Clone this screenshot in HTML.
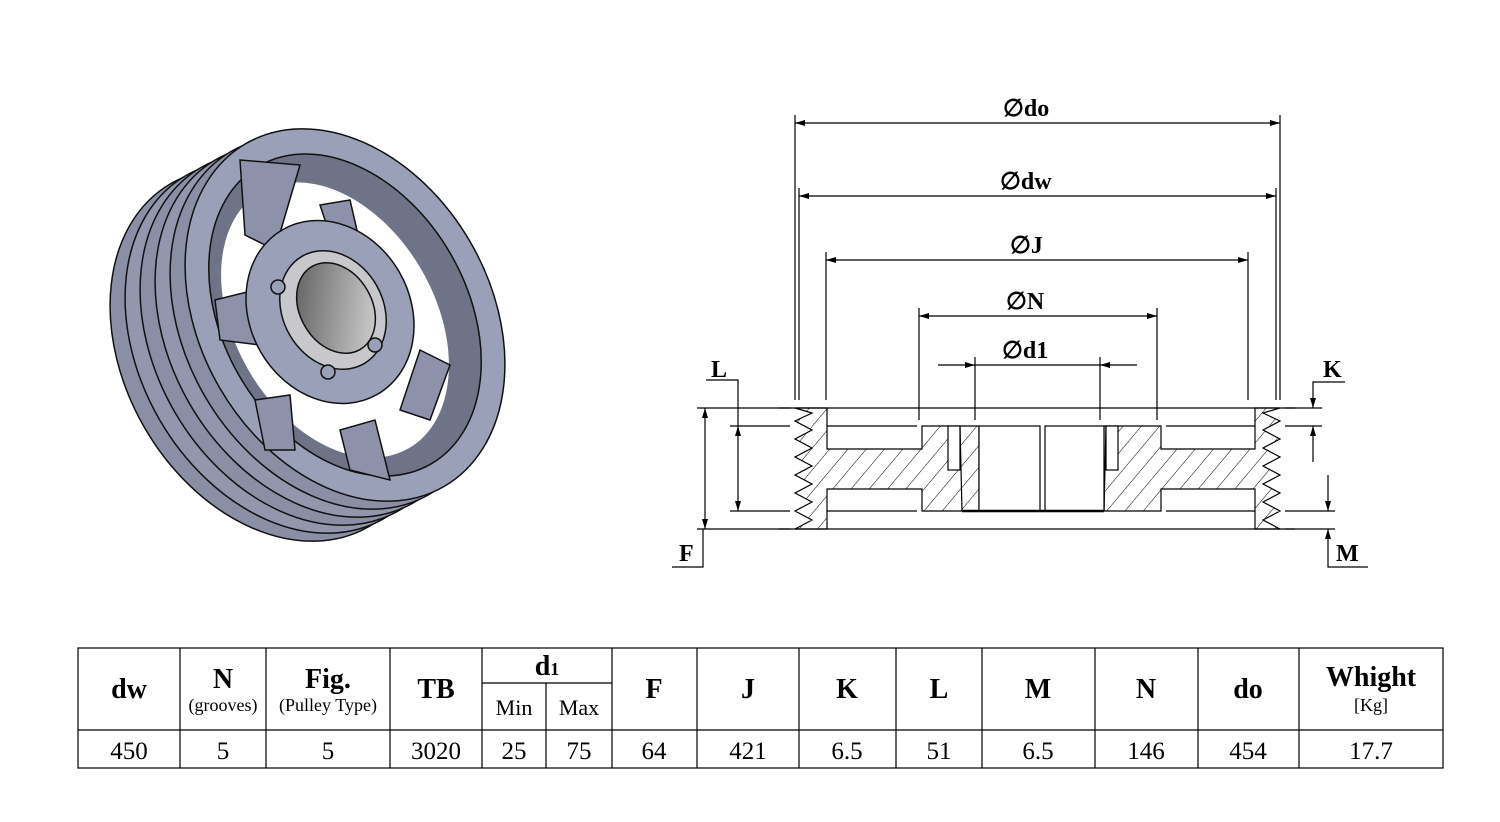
<!DOCTYPE html>
<html><head><meta charset="utf-8"><style>
body{margin:0;background:#fff;width:1500px;height:822px;overflow:hidden;font-family:"Liberation Serif",serif}
svg{position:absolute;left:0;top:0}
</style></head><body>
<svg width="1500" height="822" viewBox="0 0 1500 822" xmlns="http://www.w3.org/2000/svg">
<defs>
<pattern id="h" width="14" height="14" patternUnits="userSpaceOnUse" patternTransform="rotate(40)">
<line x1="0" y1="0" x2="0" y2="14" stroke="#000" stroke-width="1"/></pattern>
<marker id="a" viewBox="0 0 10 6" refX="10" refY="3" markerWidth="14" markerHeight="6" markerUnits="userSpaceOnUse" orient="auto-start-reverse"><path d="M0,0L10,3L0,6z" fill="#000"/></marker>
<linearGradient id="bore" x1="0" y1="0" x2="1" y2="1"><stop offset="0" stop-color="#555"/><stop offset="1" stop-color="#ddd"/></linearGradient>
</defs>

<!-- 3D pulley -->
<g stroke="#111" stroke-width="1.5">
<ellipse cx="270" cy="355" rx="145" ry="198" transform="rotate(-30 270 355)" fill="#8a8fa6"/>
<ellipse cx="285" cy="347" rx="145" ry="198" transform="rotate(-30 285 347)" fill="#9297ae"/>
<ellipse cx="300" cy="339" rx="145" ry="198" transform="rotate(-30 300 339)" fill="#8a8fa6"/>
<ellipse cx="315" cy="331" rx="145" ry="198" transform="rotate(-30 315 331)" fill="#9297ae"/>
<ellipse cx="330" cy="323" rx="145" ry="198" transform="rotate(-30 330 323)" fill="#8a8fa6"/>
<ellipse cx="345" cy="315" rx="145" ry="198" transform="rotate(-30 345 315)" fill="#9aa0b8"/>
<ellipse cx="345" cy="315" rx="122" ry="172" transform="rotate(-30 345 315)" fill="#6e7388"/>
<ellipse cx="335" cy="320" rx="100" ry="148" transform="rotate(-30 335 320)" fill="#ffffff" stroke="none"/>
<g fill="#8d92aa">
<path d="M240,160 L300,165 L275,250 L245,235z"/>
<path d="M320,205 L350,200 L365,265 L335,250z"/>
<path d="M215,300 L255,290 L260,345 L220,340z"/>
<path d="M420,350 L450,365 L430,420 L400,410z"/>
<path d="M340,430 L375,420 L390,480 L350,470z"/>
<path d="M255,400 L290,395 L295,450 L265,450z"/>
</g>
<ellipse cx="330" cy="312" rx="80" ry="95" transform="rotate(-30 330 312)" fill="#9aa0b8"/>
<ellipse cx="333" cy="310" rx="50" ry="62" transform="rotate(-30 333 310)" fill="#c8c8cc"/>
<ellipse cx="336" cy="308" rx="36" ry="48" transform="rotate(-30 336 308)" fill="url(#bore)"/>
<circle cx="278" cy="287" r="7" fill="#9aa0b8"/>
<circle cx="375" cy="345" r="7" fill="#9aa0b8"/>
<circle cx="328" cy="372" r="7" fill="#9aa0b8"/>
</g>

<!-- section drawing -->
<g stroke="#000" stroke-width="1.2" fill="none">
<path fill="url(#h)" d="M795,408 L827,408 L827,449 L922,449 L922,426 L979,426 L979,511 L922,511 L922,489 L827,489 L827,529 L795,529 L812,520 L795,511 L812,502 L795,493 L812,484 L795,475 L812,466 L795,457 L812,448 L795,439 L812,430 L795,421 L812,413 z"/>
<path fill="url(#h)" d="M1280,408 L1255,408 L1255,449 L1161,449 L1161,426 L1104,426 L1104,511 L1161,511 L1161,489 L1255,489 L1255,529 L1280,529 L1263,520 L1280,511 L1263,502 L1280,493 L1263,484 L1280,475 L1263,466 L1280,457 L1263,448 L1280,439 L1263,430 L1280,421 L1263,413 z"/>
<rect x="979" y="426" width="61" height="85" fill="#fff"/>
<rect x="1045" y="426" width="59" height="85" fill="#fff"/>
<rect x="948" y="426" width="12" height="44" fill="#fff"/>
<rect x="1106" y="426" width="12" height="44" fill="#fff"/>
<line x1="960" y1="426" x2="962" y2="511"/><line x1="1106" y1="426" x2="1104" y2="511"/>
<line x1="962" y1="511" x2="1104" y2="511" stroke-width="2.5"/>
<line x1="779" y1="408" x2="1295" y2="408"/>
<line x1="779" y1="529" x2="1295" y2="529"/>
<line x1="827" y1="426" x2="917" y2="426"/><line x1="1166" y1="426" x2="1255" y2="426"/>
<line x1="827" y1="511" x2="917" y2="511"/><line x1="1166" y1="511" x2="1255" y2="511"/>
<line x1="795" y1="115" x2="795" y2="400"/><line x1="1280" y1="115" x2="1280" y2="400"/>
<line x1="799" y1="188" x2="799" y2="400"/><line x1="1276" y1="188" x2="1276" y2="400"/>
<line x1="826" y1="252" x2="826" y2="400"/><line x1="1248" y1="252" x2="1248" y2="400"/>
<line x1="919" y1="308" x2="919" y2="420"/><line x1="1157" y1="308" x2="1157" y2="420"/>
<line x1="975" y1="357" x2="975" y2="420"/><line x1="1100" y1="357" x2="1100" y2="420"/>
<line x1="795" y1="123" x2="1280" y2="123" marker-start="url(#a)" marker-end="url(#a)"/>
<line x1="799" y1="196" x2="1276" y2="196" marker-start="url(#a)" marker-end="url(#a)"/>
<line x1="826" y1="260" x2="1248" y2="260" marker-start="url(#a)" marker-end="url(#a)"/>
<line x1="919" y1="316" x2="1157" y2="316" marker-start="url(#a)" marker-end="url(#a)"/>
<line x1="938" y1="365" x2="975" y2="365" marker-end="url(#a)"/>
<line x1="1137" y1="365" x2="1100" y2="365" marker-end="url(#a)"/>
<line x1="975" y1="365" x2="1100" y2="365"/>
<line x1="697" y1="408" x2="790" y2="408"/><line x1="697" y1="529" x2="790" y2="529"/>
<line x1="730" y1="426" x2="790" y2="426"/><line x1="730" y1="511" x2="790" y2="511"/>
<line x1="705" y1="408" x2="705" y2="529" marker-start="url(#a)" marker-end="url(#a)"/>
<line x1="738" y1="426" x2="738" y2="511" marker-start="url(#a)" marker-end="url(#a)"/>
<polyline points="706,380 738,380 738,426"/>
<polyline points="672,567 703,567 703,529"/>
<line x1="1285" y1="408" x2="1322" y2="408"/><line x1="1285" y1="426" x2="1322" y2="426"/>
<line x1="1285" y1="511" x2="1335" y2="511"/><line x1="1285" y1="529" x2="1335" y2="529"/>
<polyline points="1345,382 1313,382 1313,408" marker-end="url(#a)"/>
<line x1="1313" y1="462" x2="1313" y2="426" marker-end="url(#a)"/>
<line x1="1328" y1="475" x2="1328" y2="511" marker-end="url(#a)"/>
<polyline points="1368,567 1328,567 1328,529" marker-end="url(#a)"/>
</g>
<g font-family="Liberation Serif,serif" font-weight="bold" font-size="24" fill="#000">
<text x="1003" y="116">∅do</text>
<text x="1000" y="189">∅dw</text>
<text x="1010" y="253">∅J</text>
<text x="1006" y="309">∅N</text>
<text x="1002" y="358">∅d1</text>
<text x="711" y="377">L</text>
<text x="679" y="561">F</text>
<text x="1323" y="377">K</text>
<text x="1336" y="561">M</text>
</g>

<!-- table -->
<g stroke="#000" stroke-width="1.2" fill="none">
<rect x="78" y="648" width="1365" height="120"/>
<line x1="78" y1="730" x2="1443" y2="730"/>
<line x1="482" y1="683" x2="612" y2="683"/>
<line x1="180" y1="648" x2="180" y2="768"/><line x1="266" y1="648" x2="266" y2="768"/>
<line x1="390" y1="648" x2="390" y2="768"/><line x1="482" y1="648" x2="482" y2="768"/>
<line x1="546" y1="683" x2="546" y2="768"/><line x1="612" y1="648" x2="612" y2="768"/>
<line x1="697" y1="648" x2="697" y2="768"/><line x1="799" y1="648" x2="799" y2="768"/>
<line x1="896" y1="648" x2="896" y2="768"/><line x1="982" y1="648" x2="982" y2="768"/>
<line x1="1095" y1="648" x2="1095" y2="768"/><line x1="1198" y1="648" x2="1198" y2="768"/>
<line x1="1299" y1="648" x2="1299" y2="768"/>
</g>
<g font-family="Liberation Serif,serif" text-anchor="middle" fill="#000">
<g font-weight="bold" font-size="28">
<text x="129" y="698">dw</text><text x="223" y="688">N</text><text x="328" y="688">Fig.</text>
<text x="436" y="698">TB</text><text x="547" y="675">d<tspan font-size="18">1</tspan></text>
<text x="654" y="698">F</text><text x="748" y="698">J</text><text x="847" y="698">K</text>
<text x="939" y="698">L</text><text x="1038" y="698">M</text><text x="1146" y="698">N</text>
<text x="1248" y="698">do</text><text x="1371" y="686">Whight</text>
</g>
<g font-size="18"><text x="223" y="711">(grooves)</text><text x="328" y="711">(Pulley Type)</text><text x="1371" y="711">[Kg]</text></g>
<g font-size="22"><text x="514" y="715">Min</text><text x="579" y="715">Max</text></g>
<g font-size="25">
<text x="129" y="759">450</text><text x="223" y="759">5</text><text x="328" y="759">5</text>
<text x="436" y="759">3020</text><text x="514" y="759">25</text><text x="579" y="759">75</text>
<text x="654" y="759">64</text><text x="748" y="759">421</text><text x="847" y="759">6.5</text>
<text x="939" y="759">51</text><text x="1038" y="759">6.5</text><text x="1146" y="759">146</text>
<text x="1248" y="759">454</text><text x="1371" y="759">17.7</text>
</g>
</g>
</svg>
</body></html>
